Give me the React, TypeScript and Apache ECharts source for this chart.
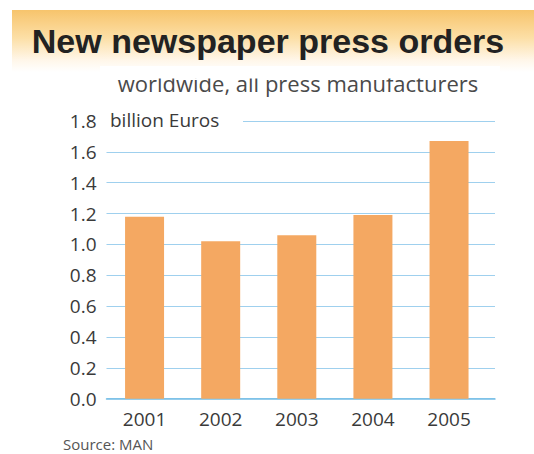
import React, { useEffect, useRef } from "react";
import * as echarts from "echarts";

const years = ["2001", "2002", "2003", "2004", "2005"];
const orders = [1.18, 1.02, 1.06, 1.19, 1.67];
const yMin = 0;
const yMax = 1.8;
const yStep = 0.2;

const titleText = "New newspaper press orders";
const subtitleText = "worldwide, all press manufacturers";
const unitText = "billion Euros";
const sourceText = "Source: MAN";

export default function App() {
  const ref = useRef<HTMLDivElement>(null);
  useEffect(() => {
    if (!ref.current) return;
    const chart = echarts.init(ref.current, null, { renderer: "svg" });
    const font = "'Open Sans', 'DejaVu Sans', sans-serif";
    chart.setOption({
      animation: false,
      backgroundColor: "#ffffff",
      grid: [
        { left: 106.5, right: 39, top: 121, bottom: 55.3 },
        { left: 106.5, width: 380.6, top: 121, bottom: 55.3 },
      ],
      xAxis: [
        {
          type: "value",
          gridIndex: 0,
          min: 0,
          max: 1,
          axisLabel: { show: false },
          axisTick: { show: false },
          splitLine: { show: false },
          axisLine: { show: true, lineStyle: { color: "#74bde6", width: 1.5 } },
        },
        {
          type: "category",
          gridIndex: 1,
          data: years,
          axisLine: { show: false },
          axisTick: { show: false },
          axisLabel: {
            color: "#3a3a3a",
            fontFamily: font,
            fontSize: 19,
            margin: 11,
          },
        },
      ],
      yAxis: [
        {
          type: "value",
          gridIndex: 0,
          min: yMin,
          max: yMax,
          interval: yStep,
          axisLine: { show: false },
          axisTick: { show: false },
          axisLabel: {
            color: "#3a3a3a",
            fontFamily: font,
            fontSize: 19,
            margin: 10,
            formatter: (v: number) => v.toFixed(1),
          },
          splitLine: { show: true, lineStyle: { color: "#9fd0ee", width: 1.2 } },
        },
        {
          type: "value",
          gridIndex: 1,
          min: yMin,
          max: yMax,
          interval: yStep,
          show: false,
          splitLine: { show: false },
        },
      ],
      series: [
        {
          type: "bar",
          xAxisIndex: 1,
          yAxisIndex: 1,
          data: orders,
          barWidth: 39,
          itemStyle: { color: "#f4a862" },
          z: 3,
        },
      ],
      graphic: [
        {
          type: "rect",
          shape: { x: 12, y: 10, width: 522, height: 62 },
          style: {
            fill: new echarts.graphic.LinearGradient(0, 0, 0, 1, [
              { offset: 0, color: "#f7c46c" },
              { offset: 0.45, color: "#fcdfa6" },
              { offset: 0.8, color: "#fff6e8" },
              { offset: 1, color: "#ffffff" },
            ]),
          },
          z: 0,
        },
        {
          type: "text",
          x: 268,
          y: 41,
          style: {
            text: titleText,
            fill: "#222222",
            font: "bold 34px 'Liberation Sans', Arial, sans-serif",
            textAlign: "center",
            textVerticalAlign: "middle",
          },
          z: 5,
        },
        {
          type: "text",
          x: 298,
          y: 83,
          style: {
            text: subtitleText,
            fill: "#4a4a4a",
            font: "22px 'Open Sans', sans-serif",
            textAlign: "center",
            textVerticalAlign: "middle",
          },
          z: 5,
        },
        {
          type: "rect",
          shape: { x: 100, y: 66, width: 400, height: 12.5 },
          style: { fill: "#ffffff" },
          z: 6,
        },
        {
          type: "rect",
          shape: { x: 104, y: 111, width: 139, height: 18 },
          style: { fill: "#ffffff" },
          z: 50,
        },
        {
          type: "text",
          x: 110,
          y: 120,
          style: {
            text: unitText,
            fill: "#3a3a3a",
            font: "19px 'Open Sans', sans-serif",
            textAlign: "left",
            textVerticalAlign: "middle",
          },
          z: 51,
        },
        {
          type: "text",
          x: 63,
          y: 436,
          style: {
            text: sourceText,
            fill: "#555555",
            font: "15px 'Open Sans', sans-serif",
            textAlign: "left",
            textVerticalAlign: "top",
          },
          z: 5,
        },
      ],
    });
    return () => chart.dispose();
  }, []);
  return (
    <div
      ref={ref}
      style={{ position: "fixed", left: 0, top: 0, width: 534, height: 454 }}
    />
  );
}
